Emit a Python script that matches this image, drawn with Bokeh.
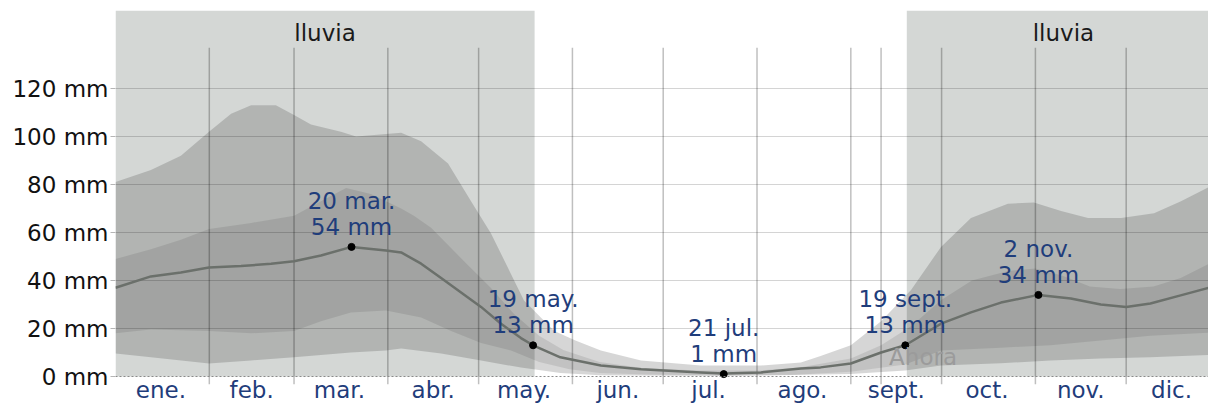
from bokeh.plotting import figure
from bokeh.models import Range1d, FixedTicker, Span
from bokeh.embed import file_html
from bokeh.resources import INLINE
from bokeh.core.properties import value

FONT = "DejaVu Sans"

# ---- data -------------------------------------------------------------
month_names = ["ene.", "feb.", "mar.", "abr.", "may.", "jun.",
               "jul.", "ago.", "sept.", "oct.", "nov.", "dic."]
month_starts = [0, 31, 59, 90, 120, 151, 181, 212, 243, 273, 304, 334, 365]

now_day = 253
now_label = "Ahora"

rain_start = [0, 261.5]
rain_end = [138.5, 365]
rain_label = "lluvia"

y_ticks = [0, 20, 40, 60, 80, 100, 120]

# median (line)
med_days = [0, 11.7, 21.6, 30.9, 41.5, 51.4, 59, 67.9, 78, 89.4, 94.4, 101,
            107.6, 114.2, 120.8, 127.4, 134, 138, 147, 160.4, 173.7, 193.5,
            201, 213.3, 226.5, 233, 243, 253, 261, 272.8, 282.7, 292.6, 305,
            315.7, 325.6, 334, 342, 352, 361.4, 365]
med_vals = [37, 41.7, 43.3, 45.4, 46, 47, 48, 50.4, 54, 52.5, 51.7, 47,
            41, 35, 29, 22, 16, 13, 8, 4.6, 3, 1.7,
            1.2, 1.7, 3.3, 3.8, 5.4, 10, 13, 22, 26.7, 30.8, 34,
            32.5, 30, 29, 30.4, 33.8, 37, 37]

# 90th percentile
p90_days = [0, 11.7, 21.6, 30.9, 38.2, 44.8, 53, 59, 64.6, 74.5, 79.5, 89.4,
            94.4, 101, 109.9, 117.5, 124.1, 135, 145, 152, 160.4, 173.7,
            193.5, 213.3, 226.5, 233, 243, 253, 262.9, 272.8, 282.7, 294.9,
            303.5, 312.5, 321.4, 332.3, 343.2, 352.1, 361.4, 365]
p90_vals = [81, 86, 92, 102, 109.5, 113, 113, 109, 105, 102, 100, 101,
            101.6, 98, 88.7, 73, 59.6, 31.7, 19, 15, 10.8, 6.7,
            4.6, 4.6, 5.8, 8.5, 13, 23, 36, 54, 66, 72,
            72.5, 69, 66, 66, 68, 73, 79, 81]

# 75th percentile
p75_days = [0, 11.7, 21.6, 30.9, 44.8, 59, 67.9, 76.2, 84.4, 94.4, 98.6,
            104.3, 115.2, 124, 131.7, 140, 148, 160, 174, 193, 213, 226,
            243, 253, 263, 273, 283, 295, 304, 313, 322, 332, 343, 352,
            361.4, 365]
p75_vals = [49, 53, 57, 61.5, 64, 67, 73, 78.5, 76, 70, 67,
            62, 48, 37, 26, 17, 11, 6, 3.5, 2.5, 2.5, 3.8,
            7.5, 13, 21, 32, 40, 44, 45, 42, 37.5, 36.5, 37.5, 41,
            47, 49]

# 25th percentile
p25_days = [0, 11.7, 30.9, 44.8, 59, 67.9, 77.8, 89.4, 101, 110.9, 120.8,
            130.7, 140, 150, 160, 175, 200, 225, 243, 261, 272.8, 292.6,
            309, 325.6, 342, 361.4, 365]
p25_vals = [18, 19.6, 19, 18, 19, 23, 26.7, 27.5, 24.6, 19, 14,
            10.8, 6, 3, 1.5, 0.8, 0.5, 0.7, 2, 5, 10.8, 12,
            13, 15, 17, 18.3, 18]

# 10th percentile
p10_days = [0, 11.7, 30.9, 44.8, 59, 77.8, 89.4, 94.4, 107.6, 120.8, 134,
            147, 160, 200, 243, 261, 272.8, 292.6, 309, 325.6, 342, 361.4,
            365]
p10_vals = [9.6, 8, 5.4, 6.7, 8, 10, 10.8, 11.7, 9.6, 6.7, 3.7,
            1.5, 0.5, 0.2, 1, 2.5, 4.6, 5.5, 6.7, 7.5, 8, 9,
            9.6]

# annotated points
ann_days = [78, 138, 201, 261, 305]
ann_vals = [54, 13, 1, 13, 34]
ann_dates = ["20 mar.", "19 may.", "21 jul.", "19 sept.", "2 nov."]
ann_amounts = [f"{v} mm" for v in ann_vals]

# ---- figure -----------------------------------------------------------
W, H = 1208, 405
LEFT, TOP, BOTTOM = 115, 10, 21
X_END = (W - LEFT) / 3.026
PX_PER_MM = 2.4
ZERO_PX = 376
Y_TOP = (ZERO_PX - TOP) / PX_PER_MM
Y_BOT = -((H - BOTTOM) - ZERO_PX) / PX_PER_MM
GRID_TOP = 137
TXT = "23px"
SHIFT = -9  # text baseline correction (px)

p = figure(width=W, height=H, output_backend="svg", toolbar_location=None,
           x_range=Range1d(0, X_END), y_range=Range1d(Y_BOT, Y_TOP),
           min_border_left=LEFT, min_border_right=0, min_border_top=TOP,
           min_border_bottom=BOTTOM)
p.outline_line_color = None
p.background_fill_color = "white"
p.xgrid.visible = False
p.ygrid.visible = False

# rainy season shading
p.quad(left=rain_start, right=rain_end, bottom=0, top=Y_TOP,
       fill_color="#d4d7d5", line_color=None)
p.text(x=[(s + e) / 2 for s, e in zip(rain_start, rain_end)], y=[Y_TOP] * 2,
       text=[rain_label] * 2, text_font=value(FONT), text_font_size=TXT,
       text_align="center", text_baseline="alphabetic", y_offset=31 + SHIFT,
       text_color="#1a1a1a")

# bands
p.patch(p90_days + p10_days[::-1], p90_vals + p10_vals[::-1],
        fill_color="#000000", fill_alpha=0.16, line_color=None)
p.patch(p75_days + p25_days[::-1], p75_vals + p25_vals[::-1],
        fill_color="#000000", fill_alpha=0.09, line_color=None)

# horizontal grid
p.hspan(y=[t for t in y_ticks if t > 0], line_color="#000000",
        line_alpha=0.17, line_width=1)
# vertical grid (month boundaries + now)
vx = month_starts[1:-1] + [now_day]
p.segment(x0=vx, y0=[Y_BOT] * len(vx), x1=vx, y1=[GRID_TOP] * len(vx),
          line_color="#000000", line_alpha=0.25, line_width=1.5)

# zero dotted line
p.add_layout(Span(location=0, dimension="width", line_color="#8a8a8a",
                  line_dash="2 2", line_width=1))

# median line
p.line(med_days, med_vals, line_color="#6b706b", line_width=2.5)

# annotations
p.scatter(ann_days, ann_vals, size=7, fill_color="black", line_color="black")
p.text(x=ann_days, y=ann_vals, text=ann_amounts, text_font=value(FONT),
       text_font_size=TXT, text_align="center", text_baseline="alphabetic",
       y_offset=-11 + SHIFT, text_color="#1f3d7b")
p.text(x=ann_days, y=ann_vals, text=ann_dates, text_font=value(FONT),
       text_font_size=TXT, text_align="center", text_baseline="alphabetic",
       y_offset=-37 + SHIFT, text_color="#1f3d7b")

p.text(x=[now_day], y=[0], text=[now_label], text_font=value(FONT),
       text_font_size=TXT, text_align="left", text_baseline="alphabetic",
       x_offset=8, y_offset=-11 + SHIFT, text_color="#9b9b9b")

# axes
p.yaxis.ticker = FixedTicker(ticks=y_ticks)
p.yaxis.major_label_overrides = {t: f"{t} mm" for t in y_ticks}
p.yaxis.major_label_text_font = FONT
p.yaxis.major_label_text_font_size = TXT
p.yaxis.major_label_text_color = "#111111"
p.yaxis.axis_line_color = None
p.yaxis.major_tick_out = 5
p.yaxis.major_tick_in = 0
p.yaxis.major_tick_line_color = "#b5b5b5"
p.yaxis.minor_tick_line_color = None
p.yaxis.major_label_standoff = 2

month_mids = [(a + b) // 2 for a, b in zip(month_starts[:-1], month_starts[1:])]
p.xaxis.ticker = FixedTicker(ticks=month_mids)
p.xaxis.major_label_overrides = {m: n for m, n in zip(month_mids, month_names)}
p.xaxis.major_label_text_font = FONT
p.xaxis.major_label_text_font_size = TXT
p.xaxis.major_label_text_color = "#1f3d7b"
p.xaxis.axis_line_color = None
p.xaxis.major_tick_line_color = None
p.xaxis.major_tick_out = 0
p.xaxis.major_tick_in = 0
p.xaxis.minor_tick_line_color = None
p.xaxis.minor_tick_out = 0
p.xaxis.major_label_standoff = -8

open("out.html", "w").write(file_html(p, INLINE))
